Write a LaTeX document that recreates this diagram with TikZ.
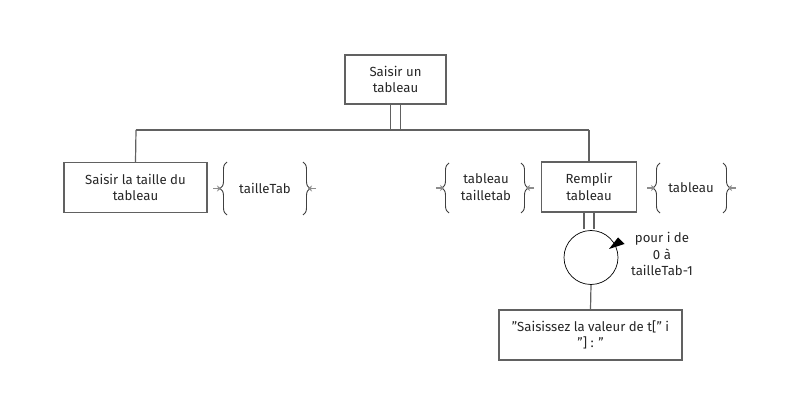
\documentclass[tikz,border=0pt]{standalone}
\usepackage{fontspec}
\setmainfont{Fira Sans}
\usetikzlibrary{decorations.pathreplacing,arrows.meta,calc}
\begin{document}
\begin{tikzpicture}[x=1pt,y=-1pt,
  every node/.style={font=\fontsize{13.2}{16.5}\selectfont, text=black!85, align=center, inner sep=0pt},
  box/.style={draw=black!62, line width=1.2pt, rectangle},
  conn/.style={draw=black!62, line width=1.2pt},
  brc/.style={draw=black!75, line width=0.9pt, decorate, decoration={brace, amplitude=7pt, aspect=0.5}},
  flow/.style={draw=black!45, line width=1.8pt, -{Stealth[length=4pt,width=6pt]}}
]
\useasboundingbox (0,0) rectangle (785,406);
% boxes
\node[box, minimum width=101pt, minimum height=49pt] (top) at (395.5,79.5) {Saisir un\\tableau};
\node[box, minimum width=143pt, minimum height=50pt] (left) at (135.5,187.5) {Saisir la taille du\\tableau};
\node[box, minimum width=95pt, minimum height=50pt] (rem) at (589,187) {Remplir\\tableau};
\node[box, minimum width=183pt, minimum height=50pt] (bot) at (590.5,335) {\char34 Saisissez la valeur de t[\char34\ i\\\char34] : \char34};
\node[draw=black, line width=0.7pt, circle, minimum size=54pt] (loop) at (591,257.5) {};
% labels
\node (l1) at (265,188) {tailleTab};
\node (l2) at (486,187) {tableau\\tailletab};
\node (l3) at (691,188) {tableau};
\node (l4) at (662,254) {pour i de\\0 à\\tailleTab-1};
% tree connectors
\coordinate (hl) at (136,130);
\coordinate (hr) at (589,130);
\draw[conn] (hl) -- (hr);
\draw[conn] ([xshift=-5pt]top.south) -- ([xshift=-5pt]top.south |- hl);
\draw[conn] ([xshift=5pt]top.south) -- ([xshift=5pt]top.south |- hl);
\draw[conn] ([xshift=-5pt]top.south |- hl) -- ([xshift=5pt]top.south |- hl);
\draw[conn] (hl) -- (left.north);
\draw[conn] (hr) -- (rem.north);
\draw[conn] ([xshift=-5pt]rem.south) -- ([xshift=-5pt,yshift=1pt]rem.south |- loop.north);
\draw[conn] ([xshift=5pt]rem.south) -- ([xshift=5pt,yshift=1pt]rem.south |- loop.north);
\draw[conn] (loop.south) -- (bot.north);
% loop arrowhead
\fill[black] (609,249) -- (618,237.5) -- (624.5,244) -- cycle;
% braces for tailleTab
\draw[brc] (227,215) -- (227,162);
\draw[brc] (303,162) -- (303,215);
\draw[flow] (213,188.5) -- (221,188.5);
\draw[flow] (316,188.5) -- (308,188.5);
% braces for tableau tailletab
\draw[brc] (449,213) -- (449,163);
\draw[brc] (521,163) -- (521,213);
\draw[flow] (436,188) -- (444,188);
\draw[flow] (534,188) -- (526,188);
% braces for tableau
\draw[brc] (660,213) -- (660,163);
\draw[brc] (723,163) -- (723,213);
\draw[flow] (647,188) -- (655,188);
\draw[flow] (736,188) -- (728,188);
\end{tikzpicture}
\end{document}
